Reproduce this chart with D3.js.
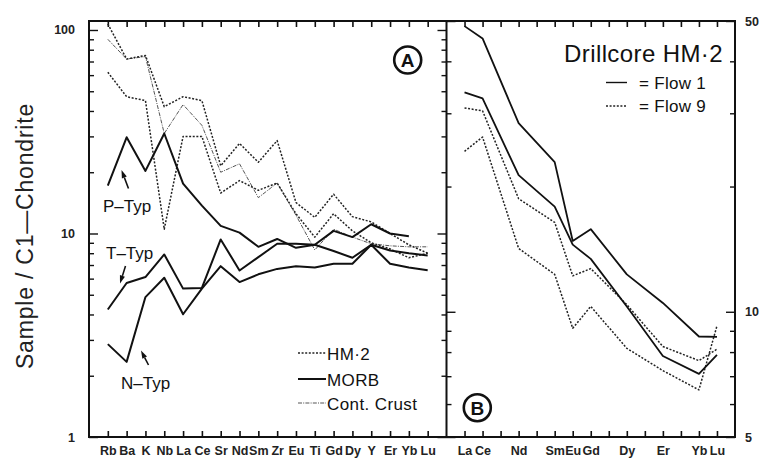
<!DOCTYPE html>
<html><head><meta charset="utf-8">
<script src="https://cdn.jsdelivr.net/npm/d3@7"></script>
<style>body{margin:0;background:#fff}svg{display:block}</style>
</head><body><svg id="c" width="766" height="462"></svg>
<script>
// ---------- DATA ----------
const leftElems = ["Rb","Ba","K","Nb","La","Ce","Sr","Nd","Sm","Zr","Eu","Ti","Gd","Dy","Y","Er","Yb","Lu"];
const leftLabels = ["Rb","Ba","K","Nb","La","Ce","Sr","Nd","Sm","Zr","Eu","Ti","Gd","Dy","Y","Er","Yb","Lu"];
// MORB types (solid)
const pTyp = [17.2, 29.7, 20.3, 31.0, 17.6, 13.7, 10.9, 10.1, 8.6, 9.4, 8.5, 8.8, 10.3, 9.6, 11.1, 10.0, 9.7, null];
const tTyp = [4.23, 5.71, 6.11, 7.89, 5.36, 5.40, 9.35, 6.58, 7.65, 8.9, 8.9, 8.8, 8.2, 7.6, 8.8, 8.25, 8.0, 7.8];
const nTyp = [2.86, 2.34, 4.87, 6.06, 4.01, 5.36, 6.91, 5.77, 6.3, 6.7, 6.9, 6.8, 7.1, 7.1, 8.8, 7.1, 6.8, 6.6];
// HM 2 (dotted)
const hm2a = [107, 72, 75, 42, 47, 45, 21.5, 27.7, 22.4, 28.6, 14.2, 12.0, 15.6, 12.1, 11.4, 10.0, 8.8, 8.0];
const hm2b = [62, 47, 45, 10.5, 30, 30, 15.8, 18.2, 16.3, 17.7, 12.5, 9.6, 12.5, 10.3, 9.0, 8.4, 7.6, 8.0];
// Continental crust (thin)
const contCrust = [90, 72, 74, 31, 43, 34, 20, 22, 15, 17.7, 12.3, 8.3, 10.5, 9.6, 8.9, 8.7, 8.6, 8.6];
const leftYTicks = [1, 10, 100];

const reeAll = ["La","Ce","Pr","Nd","Pm","Sm","Eu","Gd","Tb","Dy","Ho","Er","Tm","Yb","Lu"];
const reeMeasured = ["La","Ce","Nd","Sm","Eu","Gd","Dy","Er","Yb","Lu"];
const flow1a = [48.6, 45.4, 28.4, 22.9, 14.8, 15.8, 12.3, 10.5, 8.72, 8.7];
const flow1b = [33.7, 32.6, 21.3, 17.9, 14.5, 13.4, 10.3, 7.83, 7.09, 7.88];
const flow9a = [30.9, 30.4, 18.7, 16.4, 12.2, 12.7, 10.4, 8.25, 7.63, 8.13];
const flow9b = [24.3, 26.3, 14.2, 12.3, 9.13, 10.3, 8.17, 7.22, 6.49, 9.25];
const rightYTicks = [5, 10, 50];

// ---------- LAYOUT ----------
const svg = d3.select("#c");
const L = {x0: 89, x1: 446.5, y0: 21, y1: 437};
const R = {x0: 446.5, x1: 735, y0: 21, y1: 437};
const FONT = "'Liberation Sans', Arial, sans-serif";

const xL = d3.scalePoint().domain(leftElems).range([L.x0, L.x1]).padding(1);
const yL = d3.scaleLog().domain([1, 110.7]).range([L.y1, L.y0]);
const xR = d3.scalePoint().domain(reeAll).range([R.x0, R.x1]).padding(1);
const yR = d3.scaleLog().domain([5, 50]).range([R.y1, R.y0]);

function minorTicks(lo, hi) {
  const out = [];
  for (let d = Math.pow(10, Math.floor(Math.log10(lo))); d <= hi; d *= 10)
    for (let k = 1; k < 10; k++) { const v = k * d; if (v >= lo - 1e-9 && v <= hi + 1e-9) out.push(v); }
  return out;
}
const majorL = new Set([1, 10, 100]);
const majorR = new Set([5, 10, 50]);

function styleAxis(g, sw) {
  g.select(".domain").remove();
  g.selectAll(".tick line").attr("stroke", "#111").attr("stroke-width", sw || 1.4);
}

// vertical log ticks
function vTicks(scale, x, dir, vals, majors) {
  const ax = (dir > 0 ? d3.axisRight(scale) : d3.axisLeft(scale))
    .tickValues(vals).tickFormat("").tickSize(5);
  const g = svg.append("g").attr("transform", `translate(${x},0)`).call(ax);
  styleAxis(g);
  g.selectAll(".tick line").attr("x2", d => dir * (majors.has(d) ? 9 : 5));
}
vTicks(yL, L.x0, 1, minorTicks(1, 100), majorL);
vTicks(yL, L.x1, -1, minorTicks(1, 100), majorL);
vTicks(yR, R.x0, 1, minorTicks(5, 50), majorR);
vTicks(yR, R.x1, -1, minorTicks(5, 50), majorR);

// horizontal category ticks
function hTicks(scale, vals) {
  const gb = svg.append("g").attr("transform", `translate(0,${L.y1})`)
    .call(d3.axisTop(scale).tickValues(vals).tickFormat("").tickSize(6));
  styleAxis(gb, 1.6);
  const gt = svg.append("g").attr("transform", `translate(0,${L.y0})`)
    .call(d3.axisBottom(scale).tickValues(vals).tickFormat("").tickSize(6));
  styleAxis(gt, 1.6);
}
hTicks(xL, leftElems);
hTicks(xR, reeAll);

// category labels
function catLabels(scale, vals) {
  const g = svg.append("g").attr("transform", `translate(0,${L.y1})`)
    .call(d3.axisBottom(scale).tickValues(vals).tickSize(0).tickPadding(9));
  g.select(".domain").remove();
  g.selectAll("text").attr("font-family", FONT).attr("font-size", 12.5)
    .attr("font-weight", "bold").attr("fill", "#222");
}
catLabels(xL, leftLabels);
catLabels(xR, reeMeasured);

// y labels
const gyl = svg.append("g").attr("transform", `translate(${L.x0},0)`)
  .call(d3.axisLeft(yL).tickValues(leftYTicks).tickFormat(d3.format("d")).tickSize(0).tickPadding(14));
gyl.select(".domain").remove();
gyl.selectAll("text").attr("font-family", FONT).attr("font-size", 12.5).attr("font-weight", "bold").attr("fill", "#222");
const gyr = svg.append("g").attr("transform", `translate(${R.x1},0)`)
  .call(d3.axisRight(yR).tickValues(rightYTicks).tickFormat(d3.format("d")).tickSize(0).tickPadding(10));
gyr.select(".domain").remove();
gyr.selectAll("text").attr("font-family", FONT).attr("font-size", 12.5).attr("font-weight", "bold").attr("fill", "#222");

// frames
svg.append("rect").attr("x", L.x0).attr("y", L.y0).attr("width", R.x1 - L.x0).attr("height", L.y1 - L.y0)
  .attr("fill", "none").attr("stroke", "#111").attr("stroke-width", 2);
svg.append("line").attr("x1", L.x1).attr("x2", L.x1).attr("y1", L.y0).attr("y2", L.y1)
  .attr("stroke", "#111").attr("stroke-width", 2);

// ---------- LINES ----------
const STY = {
  solid: {stroke: "#111", w: 2, dash: null},
  dotted: {stroke: "#222", w: 1.5, dash: "2,1.6"},
  thin: {stroke: "#555", w: 1, dash: "4,1.2,1,1.2"}
};
function drawLine(vals, elems, xs, ys, sty) {
  const pts = vals.map((v, i) => ({e: elems[i], v}));
  const line = d3.line().defined(d => d.v != null).x(d => xs(d.e)).y(d => ys(d.v));
  svg.append("path").attr("d", line(pts)).attr("fill", "none")
    .attr("stroke", sty.stroke).attr("stroke-width", sty.w)
    .attr("stroke-dasharray", sty.dash).attr("stroke-linejoin", "round");
}
drawLine(contCrust, leftElems, xL, yL, STY.thin);
drawLine(hm2a, leftElems, xL, yL, STY.dotted);
drawLine(hm2b, leftElems, xL, yL, STY.dotted);
drawLine(pTyp, leftElems, xL, yL, STY.solid);
drawLine(tTyp, leftElems, xL, yL, STY.solid);
drawLine(nTyp, leftElems, xL, yL, STY.solid);

drawLine(flow9a, reeMeasured, xR, yR, STY.dotted);
drawLine(flow9b, reeMeasured, xR, yR, STY.dotted);
drawLine(flow1a, reeMeasured, xR, yR, {stroke: "#111", w: 1.8, dash: null});
drawLine(flow1b, reeMeasured, xR, yR, {stroke: "#111", w: 1.8, dash: null});

// ---------- ANNOTATIONS ----------
function txt(x, y, s, size, opts) {
  opts = opts || {};
  return svg.append("text").attr("x", x).attr("y", y).text(s)
    .attr("font-family", FONT).attr("font-size", size).attr("fill", "#111")
    .attr("text-anchor", opts.anchor || "start").attr("font-weight", opts.weight || "normal")
    .attr("letter-spacing", opts.ls || 0);
}
// y title
svg.append("text").attr("transform", "translate(33,236) rotate(-90)").attr("text-anchor", "middle")
  .attr("font-family", FONT).attr("font-size", 23).attr("letter-spacing", 0.8).attr("fill", "#222")
  .text("Sample / C1\u2014Chondrite");

// type labels
txt(103, 212, "P\u2013Typ", 17);
txt(106, 259, "T\u2013Typ", 17);
txt(121, 389, "N\u2013Typ", 17);

// arrows
function arrow(x1, y1, x2, y2) {
  const a = Math.atan2(y2 - y1, x2 - x1), len = 8, hw = 2.6;
  const bx = x2 - len * Math.cos(a), by = y2 - len * Math.sin(a);
  svg.append("line").attr("x1", x1).attr("y1", y1).attr("x2", bx).attr("y2", by)
    .attr("stroke", "#111").attr("stroke-width", 1.6);
  svg.append("path").attr("d", `M${x2},${y2}L${bx + hw * Math.sin(a)},${by - hw * Math.cos(a)}L${bx - hw * Math.sin(a)},${by + hw * Math.cos(a)}Z`)
    .attr("fill", "#111");
}
arrow(128.5, 188.5, 121.5, 170);
arrow(125.5, 266, 120, 283.5);
arrow(148.5, 365, 141, 350.5);

// legend left
const legL = [
  {y: 353, s: "HM\u00b72", sty: STY.dotted},
  {y: 379, s: "MORB", sty: STY.solid},
  {y: 403, s: "Cont. Crust", sty: STY.thin}
];
legL.forEach(d => {
  svg.append("line").attr("x1", 298).attr("x2", 326).attr("y1", d.y).attr("y2", d.y)
    .attr("stroke", d.sty.stroke).attr("stroke-width", d.sty.w).attr("stroke-dasharray", d.sty.dash);
  txt(327, d.y + 6.5, d.s, 17, {ls: 0.4});
});

// circled letters
function circ(cx, cy, s) {
  svg.append("circle").attr("cx", cx).attr("cy", cy).attr("r", 13.5)
    .attr("fill", "none").attr("stroke", "#111").attr("stroke-width", 2.6);
  txt(cx, cy + 7, s, 19, {anchor: "middle", weight: "bold"});
}
circ(407.7, 60, "A");
circ(477.3, 407.7, "B");

// right title & legend
txt(723, 62, "Drillcore HM\u00b72", 24, {anchor: "end", ls: 0.4});
const legR = [
  {y: 82.5, s: "= Flow 1", sty: {stroke: "#111", w: 1.4, dash: null}},
  {y: 106, s: "= Flow 9", sty: STY.dotted}
];
legR.forEach(d => {
  svg.append("line").attr("x1", 606).attr("x2", 627).attr("y1", d.y).attr("y2", d.y)
    .attr("stroke", d.sty.stroke).attr("stroke-width", d.sty.w).attr("stroke-dasharray", d.sty.dash);
  txt(639, d.y + 6, d.s, 17, {ls: 0.3});
});
</script></body></html>
